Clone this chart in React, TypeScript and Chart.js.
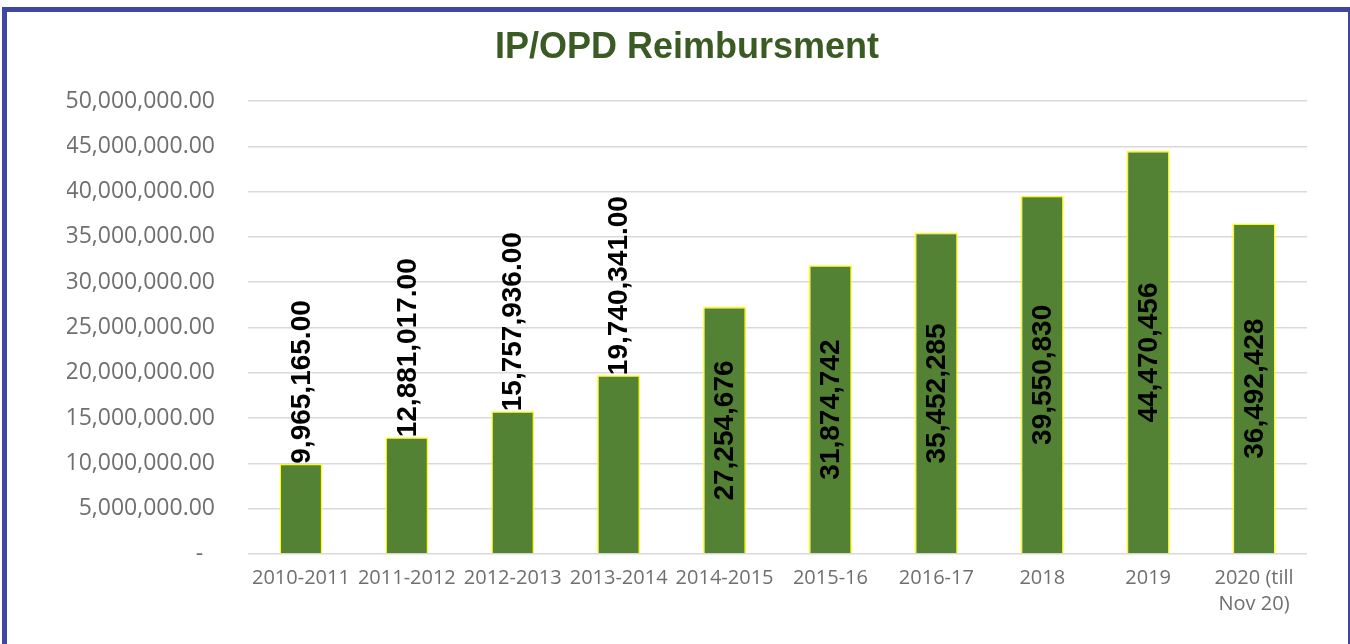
import React, { useEffect, useRef } from "react";
import { Chart, registerables } from "chart.js";

Chart.register(...registerables);

// ---- Data ----
const categories: (string | string[])[] = [
  "2010-2011",
  "2011-2012",
  "2012-2013",
  "2013-2014",
  "2014-2015",
  "2015-16",
  "2016-17",
  "2018",
  "2019",
  ["2020 (till", "Nov 20)"],
];

const values: number[] = [
  9965165, 12881017, 15757936, 19740341, 27254676, 31874742, 35452285,
  39550830, 44470456, 36492428,
];

const valueLabels: string[] = [
  "9,965,165.00",
  "12,881,017.00",
  "15,757,936.00",
  "19,740,341.00",
  "27,254,676",
  "31,874,742",
  "35,452,285",
  "39,550,830",
  "44,470,456",
  "36,492,428",
];

// true: label sits above the bar end; false: label centred inside the bar
const labelOutside: boolean[] = [
  true, true, true, true, false, false, false, false, false, false,
];

const yTickValues: number[] = [
  0, 5000000, 10000000, 15000000, 20000000, 25000000, 30000000, 35000000,
  40000000, 45000000, 50000000,
];

const yTickLabels: string[] = [
  "-  ",
  "5,000,000.00",
  "10,000,000.00",
  "15,000,000.00",
  "20,000,000.00",
  "25,000,000.00",
  "30,000,000.00",
  "35,000,000.00",
  "40,000,000.00",
  "45,000,000.00",
  "50,000,000.00",
];

const titleText = "IP/OPD Reimbursment";

// ---- Plugin: rotated value labels ----
const barLabelPlugin = {
  id: "barValueLabels",
  afterDatasetsDraw(chart: any) {
    const ctx = chart.ctx as CanvasRenderingContext2D;
    const meta = chart.getDatasetMeta(0);
    const base = chart.scales.y.getPixelForValue(0);
    ctx.save();
    ctx.font = "bold 28px 'Liberation Sans', Arial, sans-serif";
    ctx.fillStyle = "#000000";
    ctx.textBaseline = "middle";
    meta.data.forEach((bar: any, i: number) => {
      const { x, y } = bar.getProps(["x", "y"], true);
      const outside = labelOutside[i];
      ctx.save();
      ctx.translate(x + 1, outside ? y : (y + base) / 2);
      ctx.rotate(-Math.PI / 2);
      ctx.textAlign = outside ? "left" : "center";
      ctx.fillText(valueLabels[i], 0, 0);
      ctx.restore();
    });
    ctx.restore();
  },
};

export default function App() {
  const canvasRef = useRef<HTMLCanvasElement | null>(null);

  useEffect(() => {
    document.body.style.margin = "0";
    document.body.style.overflow = "hidden";
    const canvas = canvasRef.current;
    if (!canvas) return;
    const chart = new Chart(canvas, {
      type: "bar",
      data: {
        labels: categories,
        datasets: [
          {
            data: values,
            backgroundColor: "#548235",
            borderColor: "#FFFF00",
            borderWidth: 1.5,
            barPercentage: 0.405,
            categoryPercentage: 1,
          },
        ],
      },
      options: {
        animation: false,
        responsive: false,
        devicePixelRatio: 1,
        layout: { padding: { left: 60, right: 41, top: 0, bottom: 0 } },
        plugins: {
          legend: { display: false },
          tooltip: { enabled: false },
          title: {
            display: true,
            text: titleText,
            color: "#3A5C24",
            font: {
              family: "'Liberation Sans', Arial, sans-serif",
              size: 36,
              weight: "bold",
              lineHeight: 1.2,
            },
            padding: { top: 14.4, bottom: 31.4 },
          },
        },
        scales: {
          x: {
            grid: { display: false, drawTicks: false },
            border: { display: false },
            ticks: {
              color: "#6f6f6f",
              font: { family: "'Open Sans', sans-serif", size: 20, lineHeight: 1.3 },
              padding: 11,
              maxRotation: 0,
              minRotation: 0,
              autoSkip: false,
            },
            afterFit: (scale: any) => {
              scale.height = 90;
            },
          },
          y: {
            min: 0,
            max: 50000000,
            grid: { color: "#d9d9d9", lineWidth: 1.5, drawTicks: false },
            border: { display: false },
            ticks: {
              stepSize: 5000000,
              color: "#6f6f6f",
              font: { family: "'Open Sans', sans-serif", size: 23 },
              padding: 33,
              callback: (value: any) => {
                const i = yTickValues.indexOf(Number(value));
                return i >= 0 ? yTickLabels[i] : "";
              },
            },
            afterFit: (scale: any) => {
              scale.width = 181;
            },
          },
        },
      },
      plugins: [barLabelPlugin],
    });
    return () => chart.destroy();
  }, []);

  return (
    <div
      style={{
        position: "absolute",
        left: 2,
        top: 7,
        width: 1341,
        height: 632,
        borderLeft: "5px solid #3F48A0",
        borderTop: "5px solid #3F48A0",
        borderRight: "2px solid #3F48A0",
        background: "#ffffff",
      }}
    >
      <canvas
        ref={canvasRef}
        width={1341}
        height={632}
        style={{ display: "block", width: 1341, height: 632 }}
      />
    </div>
  );
}
